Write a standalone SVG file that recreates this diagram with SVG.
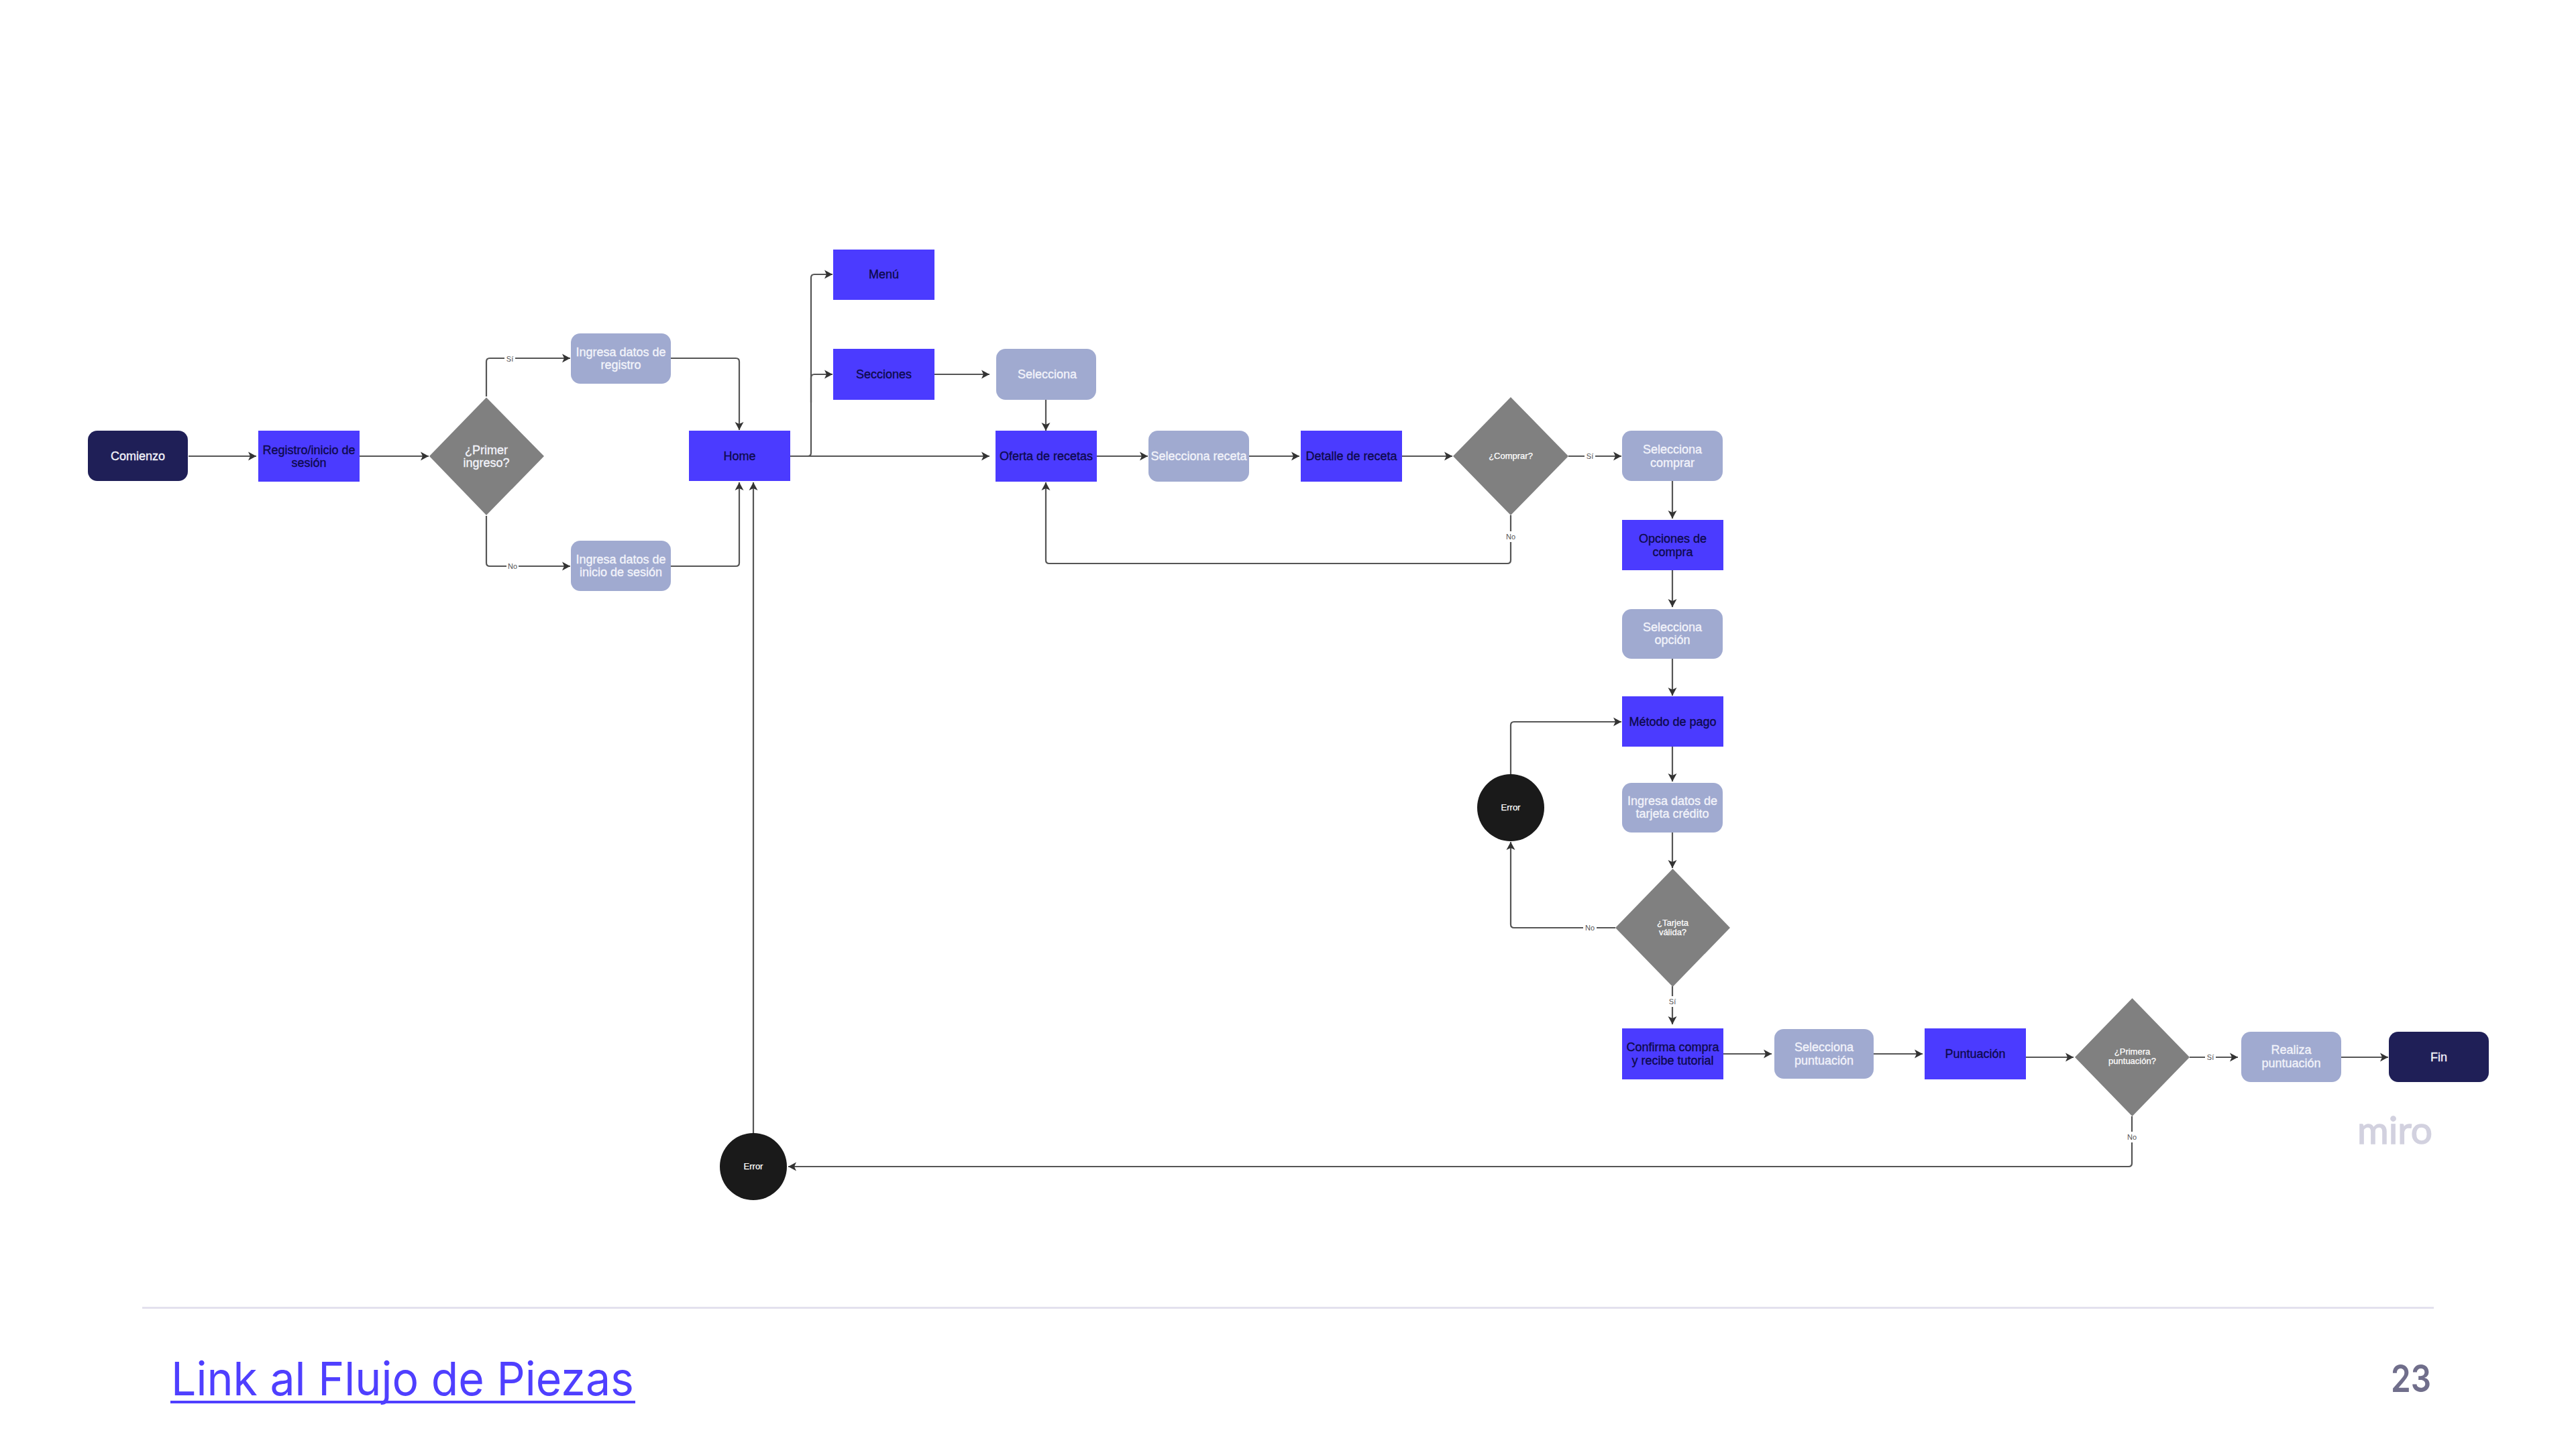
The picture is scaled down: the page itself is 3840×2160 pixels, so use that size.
<svg xmlns="http://www.w3.org/2000/svg" width="3840" height="2160" viewBox="0 0 3840 2160">
<style>
text{font-family:"Liberation Sans",Arial,sans-serif;text-anchor:middle}
.t{font-size:18px}
.d{fill:#0e0a4d;stroke:#0e0a4d;stroke-width:.35}
.w{fill:#f2f3fa;stroke:#f2f3fa;stroke-width:.35}
.s{font-size:13px;fill:#fff;stroke:#fff;stroke-width:.25}
.blue{fill:#4b3bff}
.lav{fill:#a0aad0}
.navy{fill:#1f1f57}
.dia{fill:#808080}
.err{fill:#1a1a1a}
.c{fill:none;stroke:#555;stroke-width:2.2;marker-end:url(#a)}
.lb{fill:#fff}
.l{font-size:11px;fill:#555}
</style>
<defs>
<marker id="a" markerUnits="userSpaceOnUse" markerWidth="13" markerHeight="14" refX="12" refY="7" orient="auto"><path d="M0 .5L12 7L0 13.500L3 7Z" fill="#333"/></marker>
</defs>
<rect width="3840" height="2160" fill="#fff"/>
<g id="connectors">
<path class="c" d="M281 680H382"/>
<path class="c" d="M536 680H639"/>
<path class="c" d="M725 591V539Q725 534 730 534H850"/>
<path class="c" d="M725 769V839Q725 844 730 844H850"/>
<path class="c" d="M1000 534H1097Q1102 534 1102 539V641"/>
<path class="c" d="M1000 844H1097Q1102 844 1102 839V719"/>
<path class="c" d="M1178 680H1475"/>
<path class="c" d="M1178 680H1204Q1209 680 1209 675V414Q1209 409 1214 409H1241"/>
<path class="c" d="M1209 600V563Q1209 558 1214 558H1241"/>
<path class="c" d="M1393 558H1475"/>
<path class="c" d="M1559 596V642"/>
<path class="c" d="M1635 680H1711"/>
<path class="c" d="M1862 680H1937"/>
<path class="c" d="M2089 680H2165"/>
<path class="c" d="M2338 680H2417"/>
<path class="c" d="M2252 768V835Q2252 840 2247 840H1564Q1559 840 1559 835V719"/>
<path class="c" d="M2493 717V773"/>
<path class="c" d="M2493 850V905"/>
<path class="c" d="M2493 982V1037"/>
<path class="c" d="M2493 1113V1165"/>
<path class="c" d="M2493 1241V1294"/>
<path class="c" d="M2408 1383H2257Q2252 1383 2252 1378V1255"/>
<path class="c" d="M2252 1154V1081Q2252 1076 2257 1076H2417"/>
<path class="c" d="M2493 1470V1527"/>
<path class="c" d="M2569 1571H2641"/>
<path class="c" d="M2793 1571H2866"/>
<path class="c" d="M3020 1576H3091"/>
<path class="c" d="M3264 1576H3336"/>
<path class="c" d="M3490 1576H3560"/>
<path class="c" d="M3178 1664V1734Q3178 1739 3173 1739H1175"/>
<path class="c" d="M1123 1689V719"/>
<g id="connector-labels">
<rect class="lb" x="752" y="526" width="16" height="16"/><text class="l" x="760" y="539">Sí</text>
<rect class="lb" x="755" y="836" width="18" height="16"/><text class="l" x="764" y="848">No</text>
<rect class="lb" x="2362" y="672" width="16" height="16"/><text class="l" x="2370" y="684">Sí</text>
<rect class="lb" x="2243" y="792" width="18" height="16"/><text class="l" x="2252" y="804">No</text>
<rect class="lb" x="2360" y="1375" width="20" height="16"/><text class="l" x="2370" y="1387">No</text>
<rect class="lb" x="2485" y="1485" width="16" height="16"/><text class="l" x="2493" y="1497">Sí</text>
<rect class="lb" x="3287" y="1568" width="16" height="16"/><text class="l" x="3295" y="1580">Sí</text>
<rect class="lb" x="3169" y="1687" width="18" height="16"/><text class="l" x="3178" y="1699">No</text>
</g>
</g>
<g id="comienzo"><rect class="navy" x="131" y="642" width="149" height="75" rx="14"/><text class="t w" x="205.500" y="686">Comienzo</text></g>
<g id="registro"><rect class="blue" x="385" y="642" width="151" height="76"/><text class="t d" x="460.500" y="677">Registro/inicio de</text><text class="t d" x="460.500" y="696">sesión</text></g>
<g id="primer-ingreso"><path class="dia" d="M725 592.500L811 680L725 768L640 680Z"/><text class="t w" x="725" y="677">¿Primer</text><text class="t w" x="725" y="696">ingreso?</text></g>
<g id="ingresa-registro"><rect class="lav" x="851" y="497" width="149" height="75" rx="14"/><text class="t w" x="925.500" y="531">Ingresa datos de</text><text class="t w" x="925.500" y="550">registro</text></g>
<g id="ingresa-sesion"><rect class="lav" x="851" y="806" width="149" height="75" rx="14"/><text class="t w" x="925.500" y="840">Ingresa datos de</text><text class="t w" x="925.500" y="859">inicio de sesión</text></g>
<g id="home"><rect class="blue" x="1027" y="642" width="151" height="75"/><text class="t d" x="1102.500" y="686">Home</text></g>
<g id="menu"><rect class="blue" x="1242" y="372" width="151" height="75"/><text class="t d" x="1317.500" y="415">Menú</text></g>
<g id="secciones"><rect class="blue" x="1242" y="520" width="151" height="76"/><text class="t d" x="1317.500" y="564">Secciones</text></g>
<g id="selecciona"><rect class="lav" x="1485" y="520" width="149" height="76" rx="14"/><text class="t w" x="1561" y="564">Selecciona</text></g>
<g id="oferta"><rect class="blue" x="1484" y="642" width="151" height="76"/><text class="t d" x="1559.500" y="686">Oferta de recetas</text></g>
<g id="selecciona-receta"><rect class="lav" x="1712" y="642" width="150" height="76" rx="14"/><text class="t w" x="1787" y="686">Selecciona receta</text></g>
<g id="detalle"><rect class="blue" x="1939" y="642" width="151" height="76"/><text class="t d" x="2014.500" y="686">Detalle de receta</text></g>
<g id="comprar"><path class="dia" d="M2252 592L2338 680L2252 768L2166 680Z"/><text class="s" x="2252" y="684">¿Comprar?</text></g>
<g id="selecciona-comprar"><rect class="lav" x="2418" y="642" width="150" height="75" rx="14"/><text class="t w" x="2493" y="676">Selecciona</text><text class="t w" x="2493" y="696">comprar</text></g>
<g id="opciones"><rect class="blue" x="2418" y="775" width="151" height="75"/><text class="t d" x="2493.500" y="809">Opciones de</text><text class="t d" x="2493.500" y="829">compra</text></g>
<g id="selecciona-opcion"><rect class="lav" x="2418" y="908" width="150" height="74" rx="14"/><text class="t w" x="2493" y="941">Selecciona</text><text class="t w" x="2493" y="960">opción</text></g>
<g id="metodo"><rect class="blue" x="2418" y="1038" width="151" height="75"/><text class="t d" x="2493.500" y="1082">Método de pago</text></g>
<g id="ingresa-tarjeta"><rect class="lav" x="2418" y="1167" width="150" height="74" rx="14"/><text class="t w" x="2493" y="1200">Ingresa datos de</text><text class="t w" x="2493" y="1219">tarjeta crédito</text></g>
<g id="tarjeta-valida"><path class="dia" d="M2493.500 1295L2579 1383L2493.500 1471L2408 1383Z"/><text class="s" x="2493.500" y="1380">¿Tarjeta</text><text class="s" x="2493.500" y="1394">válida?</text></g>
<g id="error-pago"><circle class="err" cx="2252" cy="1204" r="50"/><text class="s" x="2252" y="1208">Error</text></g>
<g id="confirma"><rect class="blue" x="2418" y="1533" width="151" height="76"/><text class="t d" x="2493.500" y="1567">Confirma compra</text><text class="t d" x="2493.500" y="1587">y recibe tutorial</text></g>
<g id="selecciona-puntuacion"><rect class="lav" x="2645" y="1534" width="148" height="74" rx="14"/><text class="t w" x="2719" y="1567">Selecciona</text><text class="t w" x="2719" y="1587">puntuación</text></g>
<g id="puntuacion"><rect class="blue" x="2869" y="1533" width="151" height="76"/><text class="t d" x="2944.500" y="1577">Puntuación</text></g>
<g id="primera-puntuacion"><path class="dia" d="M3178.500 1488L3264 1576L3178.500 1664L3093 1576Z"/><text class="s" x="3178.500" y="1572">¿Primera</text><text class="s" x="3178.500" y="1586">puntuación?</text></g>
<g id="realiza"><rect class="lav" x="3341" y="1538" width="149" height="75" rx="14"/><text class="t w" x="3415.500" y="1571">Realiza</text><text class="t w" x="3415.500" y="1591">puntuación</text></g>
<g id="fin"><rect class="navy" x="3561" y="1538" width="149" height="75" rx="14"/><text class="t w" x="3635.500" y="1582">Fin</text></g>
<g id="error-inicio"><circle class="err" cx="1123" cy="1739" r="50"/><text class="s" x="1123" y="1743">Error</text></g>
<text x="3570" y="1705" font-size="57" fill="#d2d1df" stroke="#d2d1df" stroke-width="1.5" textLength="112" lengthAdjust="spacingAndGlyphs" style="font-family:Lato,sans-serif">miro</text>
<rect x="212" y="1948" width="3416" height="3" fill="#e3e1ee"/>
<text x="600" y="2080" font-size="69" fill="#4f3fff" textLength="690" lengthAdjust="spacingAndGlyphs" style="font-family:Inter,sans-serif">Link al Flujo de Piezas</text>
<rect x="254" y="2088" width="693" height="4" fill="#4f3fff"/>
<text x="3594" y="2075" font-size="57" font-weight="600" fill="#706e8b" textLength="60" lengthAdjust="spacingAndGlyphs" style="font-family:Inter,sans-serif">23</text>
</svg>
